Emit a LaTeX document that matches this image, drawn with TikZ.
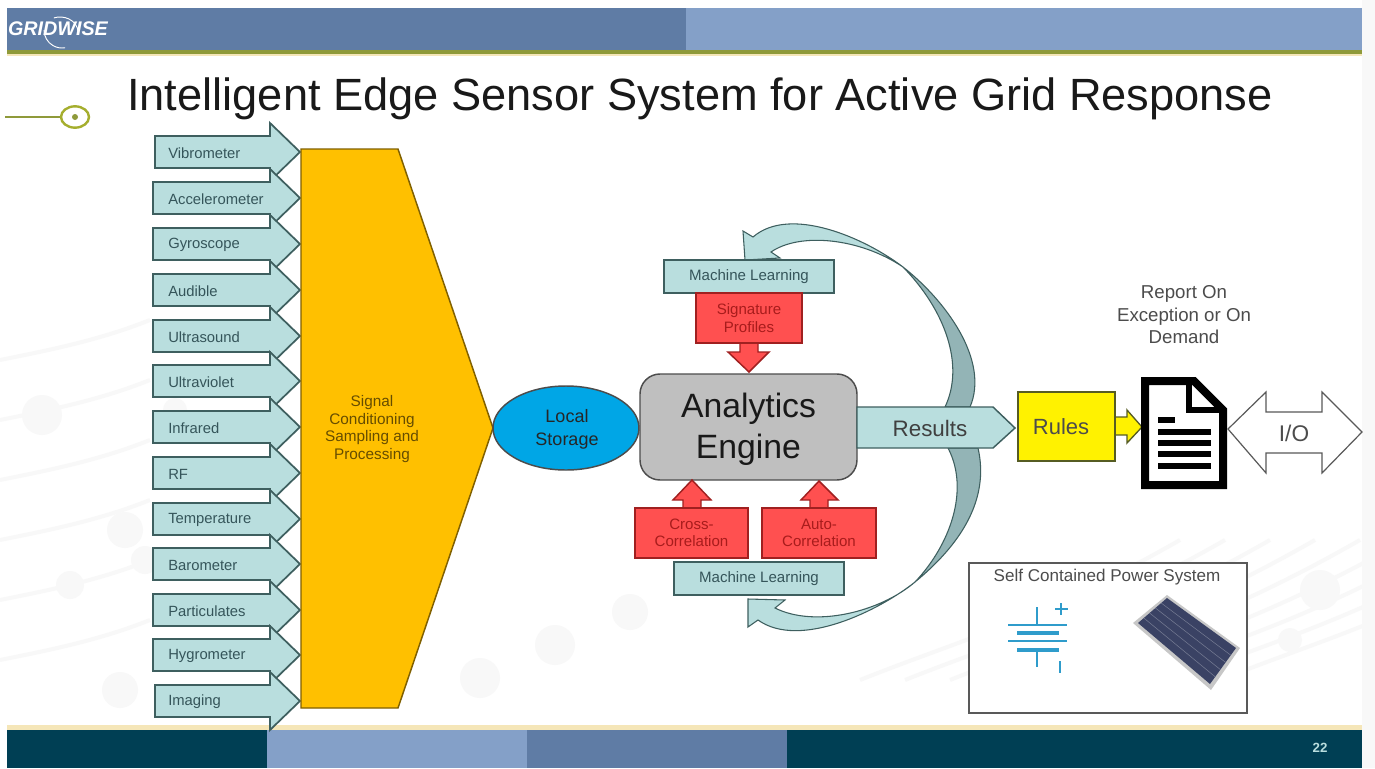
\documentclass[tikz,border=0pt]{standalone}
\usepackage{fontspec}
\setmainfont{Liberation Sans}
\usetikzlibrary{shapes.geometric}
\definecolor{hdark}{HTML}{5F7CA5}
\definecolor{hlight}{HTML}{84A0C8}
\definecolor{foot}{HTML}{003F54}
\definecolor{olive}{HTML}{8F9A3A}
\definecolor{cream}{HTML}{F5E6B8}
\definecolor{teal}{HTML}{B9DEDE}
\definecolor{tealline}{HTML}{3E5F5F}
\definecolor{tealdark}{HTML}{93B4B6}
\definecolor{tealtext}{HTML}{35555A}
\definecolor{orange}{HTML}{FFC000}
\definecolor{redbox}{HTML}{FF5050}
\definecolor{redline}{HTML}{A02020}
\definecolor{redtext}{HTML}{A81C1C}
\definecolor{wm}{HTML}{F8F8F8}
\definecolor{skyb}{HTML}{00A6E6}
\definecolor{batt}{HTML}{2F9CCB}
\definecolor{panel}{HTML}{3A4264}
\newcommand\fs[1]{\fontsize{#1}{#1}\selectfont}
\tikzset{
  x=0.75pt,y=-0.75pt,
  blockline/.style={draw=tealline,line width=1.3pt,fill=teal,line join=miter},
  sensortext/.style={anchor=west,inner sep=0pt,text=tealtext,font=\fs{11.1}},
  tealbox/.style={draw=tealline,line width=1.1pt,fill=teal,inner sep=0pt,text=tealtext,font=\fs{11.3}},
  redshape/.style={draw=redline,line width=1.1pt,fill=redbox},
  redboxn/.style={redshape,inner sep=0pt,text=redtext,font=\fs{11.3},align=center},
  plain/.style={inner sep=0pt,align=center},
}
\newcommand\sensorarrow[4]{%
  \draw[blockline] (#2,#3-16) -- (270,#3-16) -- (270,#3-29) -- (300,#3) -- (270,#3+29) -- (270,#3+16) -- (#2,#3+16) -- cycle;
  \node[sensortext] (#1) at (168,#3+1) {#4};
}
\begin{document}
\begin{tikzpicture}
\useasboundingbox (0,0) rectangle (1375,768);
\fill[white] (0,0) rectangle (1375,768);
\fill[wm] (1362,0) rectangle (1375,768);
% watermark
\begin{scope}[wm]
\foreach \a/\b/\r in {42/415/20,125/530/18,70/585/14,145/560/14,555/645/20,630/612/18,480/678/20,1320/590/20,120/690/18,175/410/12,1290/640/12}
  \fill (\a,\b) circle[radius=\r];
\foreach \s in {0,45,...,360}
  \draw[line width=3pt] (860+\s,680) .. controls (960+\s,640) and (1040+\s,620) .. (1180+\s,540);
\foreach \s in {0,60,...,300}
  \draw[line width=3pt] (0,360+\s) .. controls (50,350+\s) and (100,340+\s) .. (150,320+\s);
\end{scope}
% header
\fill[hdark] (7,8) rectangle (686,50);
\fill[hlight] (686,8) rectangle (1362,50);
\fill[olive] (7,50) rectangle (1362,54);
\fill[cream] (7,54) rectangle (1362,56);
\node[inner sep=0pt,text=white,font=\bfseries\itshape\fs{14.8}] (logo) at (58,29) {GRIDWISE};
\draw[white,line width=0.7pt] (44,30) arc[start angle=180,end angle=80,x radius=18,y radius=18];
\draw[white,line width=0.7pt] (78,32) arc[start angle=0,end angle=-110,x radius=18,y radius=15];
% bullet
\draw[olive,line width=1pt] (5,117) -- (60,117);
\node[draw=olive!80!yellow,line width=1.8pt,fill=white,ellipse,minimum width=21pt,minimum height=16pt,inner sep=0pt] (dot) at (75,117) {};
\fill[olive] (dot.center) circle[radius=3];
% title
\node[plain,anchor=base west,font=\fs{33.9},text=black!90] (title) at (127,110) {Intelligent Edge Sensor System for Active Grid Response};
% footer
\fill[cream] (7,725) rectangle (1362,730);
\fill[foot] (7,730) rectangle (1362,768);
\fill[hlight] (267,730) rectangle (527,768);
\fill[hdark] (527,730) rectangle (787,768);
\node[plain,text=teal,font=\bfseries\fs{10}] (page) at (1320,748) {22};
% sensors
\sensorarrow{s1}{155}{152}{Vibrometer}
\sensorarrow{s2}{153}{198}{Accelerometer}
\sensorarrow{s3}{153}{244}{Gyroscope}
\sensorarrow{s4}{153}{290}{Audible}
\sensorarrow{s5}{153}{336}{Ultrasound}
\sensorarrow{s6}{153}{381}{Ultraviolet}
\sensorarrow{s7}{153}{427}{Infrared}
\sensorarrow{s8}{153}{473}{RF}
\sensorarrow{s9}{153}{519}{Temperature}
\sensorarrow{s10}{153}{564}{Barometer}
\sensorarrow{s11}{153}{610}{Particulates}
\sensorarrow{s12}{153}{655}{Hygrometer}
\sensorarrow{s13}{155}{701}{Imaging}
% signal conditioning
\draw[draw=orange!50!black,line width=1.1pt,fill=orange] (301,149) -- (398,149) -- (493,428) -- (398,708) -- (301,708) -- cycle;
\node[plain,text=orange!40!black,font=\fs{11.5}] (sig) at (372,429) {Signal\\[1.9pt]Conditioning\\[1.9pt]Sampling and\\[1.9pt]Processing};
% local storage
\node[ellipse,draw=black!70,line width=1.1pt,fill=skyb,minimum width=109.5pt,minimum height=63pt,inner sep=0pt] (store) at (566,428) {};
\node[plain,text=black!85,font=\fs{13.5}] (storet) at (567,429) {Local\\[3.8pt]Storage};
% curved arrows
\path[fill=tealdark,draw=tealline,line width=0.8pt]
  (903,267) .. controls (945,300) and (990,360) .. (970,407) -- (945,407)
  .. controls (965,365) and (945,310) .. (903,267) -- cycle;
\path[fill=teal,draw=tealline,line width=0.8pt]
  (903,267) .. controls (865,238) and (790,205) .. (753,237) -- (743,231) -- (745,260) -- (780,258) -- (771,252)
  .. controls (800,232) and (860,238) .. (903,267) -- cycle;
\path[fill=tealdark,draw=tealline,line width=0.8pt]
  (915,582) .. controls (960,545) and (990,500) .. (978,448) -- (948,448)
  .. controls (970,490) and (950,545) .. (915,582) -- cycle;
\path[fill=teal,draw=tealline,line width=0.8pt]
  (915,582) .. controls (880,610) and (800,650) .. (758,620) -- (748,627) -- (748,599) -- (785,600) -- (775,608)
  .. controls (815,628) and (880,612) .. (915,582) -- cycle;
% analytics engine
\node[rectangle,rounded corners=15pt,draw=black!70,line width=1.1pt,fill=black!25,minimum width=162.75pt,minimum height=79.5pt,inner sep=0pt] (engine) at (748.5,427) {};
\node[plain,font=\fs{25.3},text=black!90] (enginet) at (748.5,429) {Analytics\\[5.4pt]Engine};
% results
\draw[blockline,line width=1.1pt] (857,407) -- (993,407) -- (1015,428) -- (993,448) -- (857,448) -- cycle;
\node[plain,text=black!75,font=\fs{16.8}] (results) at (930,428) {Results};
% machine learning + red boxes
\node[tealbox,minimum width=127.5pt,minimum height=24.75pt] (mltop) at (749,276.5) {Machine Learning};
\node[tealbox,minimum width=127.5pt,minimum height=24.75pt] (mlbot) at (759,578.5) {Machine Learning};
\draw[redshape] (740,343) -- (740,352) -- (728,352) -- (749,372) -- (769,352) -- (758,352) -- (758,343) -- cycle;
\draw[redshape] (683,508) -- (683,500) -- (673,500) -- (692,480) -- (711,500) -- (701,500) -- (701,508) -- cycle;
\draw[redshape] (810,508) -- (810,500) -- (801,500) -- (819,481) -- (838,500) -- (828,500) -- (828,508) -- cycle;
\node[redboxn,minimum width=79.5pt,minimum height=37.5pt] (sigp) at (749,318) {Signature\\[1.9pt]Profiles};
\node[redboxn,minimum width=84.75pt,minimum height=37.5pt] (cross) at (691.5,533) {Cross-\\[1.9pt]Correlation};
\node[redboxn,minimum width=85.5pt,minimum height=37.5pt] (auto) at (819,533) {Auto-\\[1.9pt]Correlation};
% rules
\draw[draw=olive!60!black,line width=1pt,fill=yellow] (1115,417) -- (1127,417) -- (1127,410) -- (1142,427) -- (1127,443) -- (1127,435) -- (1115,435) -- cycle;
\node[rectangle,draw=olive!60!black,line width=1.1pt,fill=yellow,minimum width=72.75pt,minimum height=51.75pt,inner sep=0pt] (rules) at (1066.5,426.5) {};
\node[plain,text=black!70,font=\fs{16.5}] (rulest) at (1061,427) {Rules};
% document
\draw[black,line width=6pt,fill=white,line join=miter] (1145,381) -- (1194,381) -- (1223,410) -- (1223,485) -- (1145,485) -- cycle;
\draw[black,line width=5pt] (1189,379) -- (1189,410) -- (1222,410);
\foreach \yy in {432,443,454,466} \draw[black,line width=3.8pt] (1158,\yy) -- (1211,\yy);
\draw[black,line width=3.8pt] (1158,420) -- (1175,420);
% I/O
\draw[draw=black!65,line width=0.9pt,fill=white] (1228,429) -- (1266,392) -- (1266,412) -- (1322,412) -- (1322,392) -- (1362,432) -- (1322,473) -- (1322,453) -- (1266,453) -- (1266,473) -- cycle;
\node[plain,text=black!70,font=\fs{17}] (io) at (1294,433) {I/O};
\node[plain,text=black!70,font=\fs{14}] (report) at (1184,315) {Report On\\[2.9pt]Exception or On\\[2.9pt]Demand};
% power box
\node[rectangle,draw=black!65,line width=1.1pt,fill=white,minimum width=208.5pt,minimum height=112.5pt,inner sep=0pt] (power) at (1108,638) {};
\node[plain,text=black!70,font=\fs{12.8}] (powert) at (1107,577) {Self Contained Power System};
\begin{scope}[draw=batt]
\draw[line width=1.2pt] (1037,607) -- (1037,625);
\draw[line width=1.2pt] (1008,625) -- (1067,625);
\draw[line width=2.6pt] (1017,633) -- (1059,633);
\draw[line width=1.2pt] (1008,641) -- (1067,641);
\draw[line width=2.6pt] (1017,650) -- (1059,650);
\draw[line width=1.5pt] (1037,650) -- (1037,667);
\draw[line width=1.5pt] (1055,609) -- (1068,609);
\draw[line width=1.5pt] (1061,603) -- (1061,615);
\draw[line width=2pt] (1060,661) -- (1060,673);
\end{scope}
% solar panel
\fill[black!22] (1133,623) -- (1167,595) -- (1240,648) -- (1211,690) -- cycle;
\fill[panel] (1138,623) -- (1167,598) -- (1236,648) -- (1210,684) -- cycle;
\begin{scope}[panel!70!white,line width=0.4pt]
\foreach \t in {0.2,0.4,0.6,0.8}
  \draw ({1138+\t*(1167-1138)},{623+\t*(598-623)}) -- ({1210+\t*(1236-1210)},{684+\t*(648-684)});
\end{scope}
\end{tikzpicture}
\end{document}
